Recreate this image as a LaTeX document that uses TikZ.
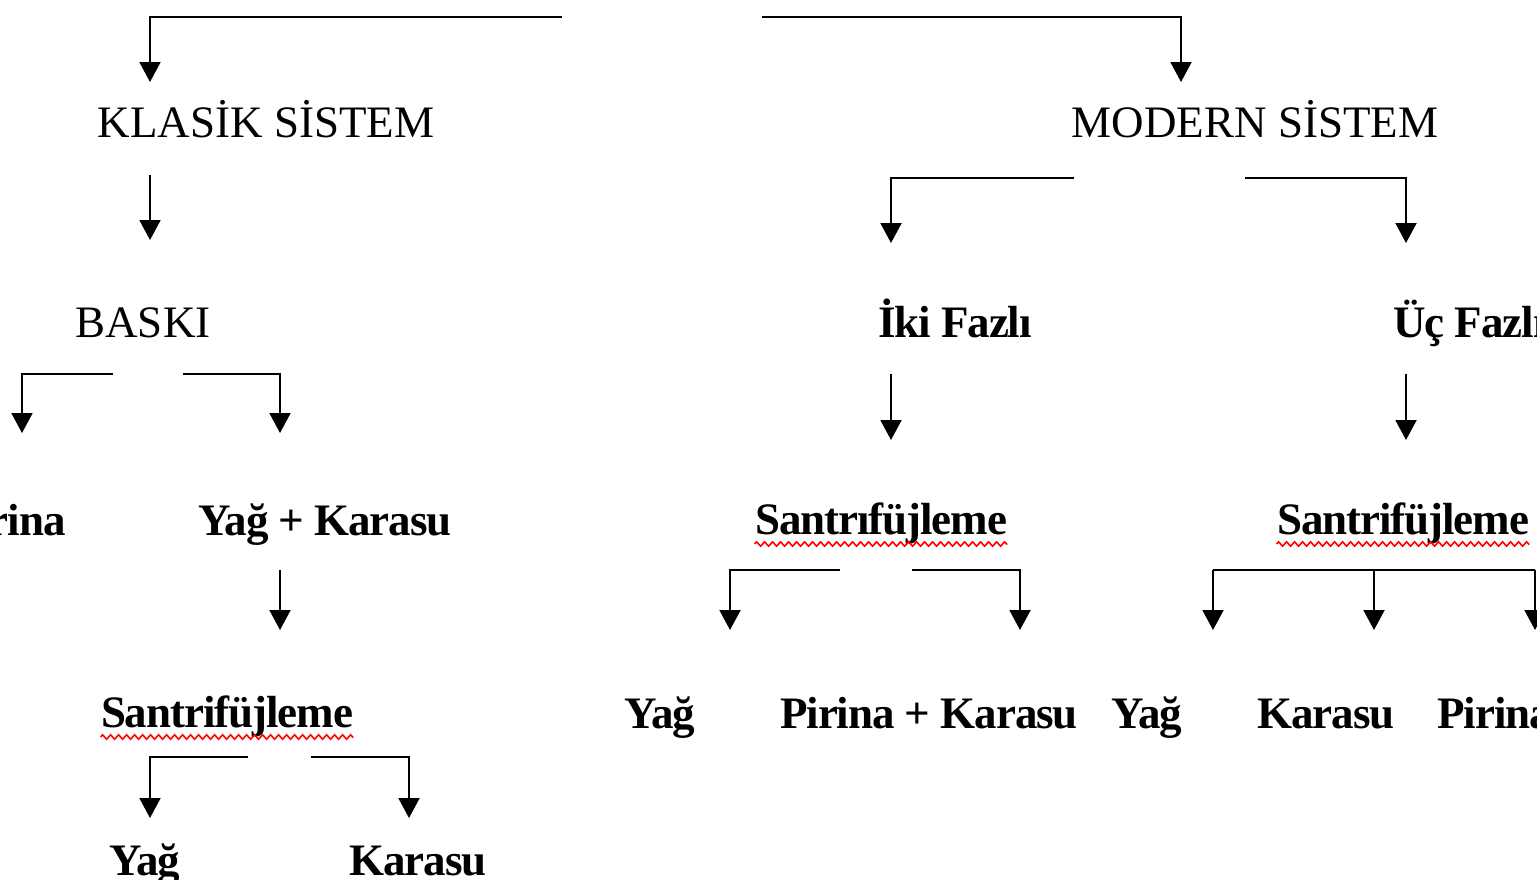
\documentclass[tikz,border=0pt]{standalone}
\usepackage{fontspec}
\setmainfont{Liberation Serif}
\newfontfamily\tightserif[LetterSpace=-2.4]{Liberation Serif}
\usetikzlibrary{arrows.meta, decorations.pathmorphing}

\tikzset{
  lbl/.style={anchor=base, inner sep=0pt, font=\fontsize{22.5}{27}\selectfont},
  blbl/.style={lbl, font=\fontsize{22.5}{27}\selectfont\tightserif\bfseries},
  arr/.style={-{Triangle[width=10.5pt,length=10pt]}, line width=1pt},
  spell/.style={red, line width=0.8pt, decorate,
    decoration={zigzag, amplitude=1.1pt, segment length=4pt}}
}

\begin{document}
\begin{tikzpicture}[x=0.5pt, y=-0.5pt]
\useasboundingbox (0,0) rectangle (1537,879);

% levels
\node[lbl] (klasik) at (266,137) {KLASİK SİSTEM};
\node[lbl] (modern) at (1255,137) {MODERN SİSTEM};
\node[lbl] (baski) at (143,337) {BASKI};
\node[blbl] (iki) at (955,337) {İki Fazlı};
\node[blbl, anchor=base west] (uc) at (1393,337) {Üç Fazlı};
\node[blbl, anchor=base east] (pirinaA) at (66,535) {Pirina};
\node[blbl] (yagkara) at (325,535) {Yağ + Karasu};
\node[blbl] (santA) at (227,727) {Santrifüjleme};
\node[blbl] (santB) at (881,534) {Santrıfüjleme};
\node[blbl] (santC) at (1403,534) {Santrifüjleme};
\node[blbl] (yagA) at (145,875) {Yağ};
\node[blbl] (karaA) at (418,875) {Karasu};
\node[blbl] (yagB) at (660,728) {Yağ};
\node[blbl] (pirkaraB) at (929,728) {Pirina + Karasu};
\node[blbl] (yagC) at (1147,728) {Yağ};
\node[blbl] (karaC) at (1326,728) {Karasu};
\node[blbl, anchor=base west] (pirinaC) at (1437,728) {Pirina};

% spelling marks
\foreach \s in {santA, santB, santC}
  \draw[spell] ([yshift=-5pt]\s.base west) -- ([yshift=-5pt]\s.base east);

% connector ends
\coordinate (rootL) at (562,17);   \coordinate (toKlasik) at (150,82);
\coordinate (rootR) at (762,17);   \coordinate (toModern) at (1181,82);
\coordinate (klasikOut) at (150,175); \coordinate (toBaski) at (150,240);
\coordinate (baskiL) at (113,374); \coordinate (toPirinaA) at (22,433);
\coordinate (baskiR) at (183,374); \coordinate (toYagkara) at (280,433);
\coordinate (yagkaraOut) at (280,570); \coordinate (toSantA) at (280,630);
\coordinate (santAL) at (248,757); \coordinate (toYagA) at (150,818);
\coordinate (santAR) at (311,757); \coordinate (toKaraA) at (409,818);
\coordinate (modernL) at (1074,178); \coordinate (toIki) at (891,243);
\coordinate (modernR) at (1245,178); \coordinate (toUc) at (1406,243);
\coordinate (ikiOut) at (891,374); \coordinate (toSantB) at (891,440);
\coordinate (ucOut) at (1406,374); \coordinate (toSantC) at (1406,440);
\coordinate (santBL) at (840,570); \coordinate (toYagB) at (730,630);
\coordinate (santBR) at (912,570); \coordinate (toPirkaraB) at (1020,630);
\coordinate (santCL) at (1213,570); \coordinate (toYagC) at (1213,630);
\coordinate (santCM) at (1374,570); \coordinate (toKaraC) at (1374,630);
\coordinate (santCR) at (1535,570); \coordinate (toPirinaC) at (1535,630);

% connectors
\draw[arr] (rootL) -| (toKlasik);
\draw[arr] (rootR) -| (toModern);
\draw[arr] (klasikOut) -- (toBaski);
\draw[arr] (baskiL) -| (toPirinaA);
\draw[arr] (baskiR) -| (toYagkara);
\draw[arr] (yagkaraOut) -- (toSantA);
\draw[arr] (santAL) -| (toYagA);
\draw[arr] (santAR) -| (toKaraA);
\draw[arr] (modernL) -| (toIki);
\draw[arr] (modernR) -| (toUc);
\draw[arr] (ikiOut) -- (toSantB);
\draw[arr] (ucOut) -- (toSantC);
\draw[arr] (santBL) -| (toYagB);
\draw[arr] (santBR) -| (toPirkaraB);
\draw[line width=1pt] (santCL) -- (santCR);
\draw[arr] (santCL) -- (toYagC);
\draw[arr] (santCM) -- (toKaraC);
\draw[arr] (santCR) -- (toPirinaC);
\end{tikzpicture}
\end{document}
